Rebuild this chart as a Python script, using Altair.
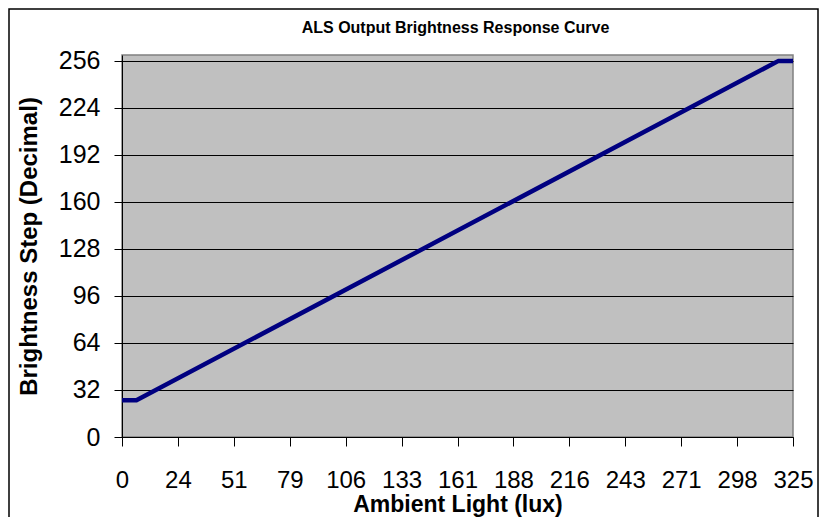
import altair as alt
import pandas as pd

# Data
lux = [0, 7, 318, 325]
step = [25, 25, 256, 256]
x_tick_labels = ['0', '24', '51', '79', '106', '133', '161', '188', '216', '243', '271', '298', '325']
y_ticks = [0, 32, 64, 96, 128, 160, 192, 224, 256]

df = pd.DataFrame({'lux': lux, 'step': step})
n = len(x_tick_labels) - 1
x_tick_pos = [325 * i / n for i in range(n + 1)]
label_expr = "[" + ",".join(f"'{s}'" for s in x_tick_labels) + f"][round(datum.value*{n}/325)]"

W, H = 671, 382
FONT = "Liberation Sans"

border = alt.Chart(alt.Data(values=[{'a': 1}])).mark_rect(
    filled=False, stroke='black', strokeWidth=1.5
).encode(
    x=alt.value(-113), x2=alt.value(696), y=alt.value(-46), y2=alt.value(H + 120)
)

line = alt.Chart(df).mark_line(color='#000080', strokeWidth=4.5).encode(
    x=alt.X('lux:Q',
            scale=alt.Scale(domain=[0, 325], nice=False, zero=False),
            axis=alt.Axis(values=x_tick_pos, labelExpr=label_expr, title='Ambient Light (lux)',
                          grid=False, tickSize=9, labelPadding=22, labelFontSize=24,
                          titleFontSize=23, titleFontWeight='bold', titleBaseline='alphabetic',
                          titleY=74, labelFlush=False)),
    y=alt.Y('step:Q',
            scale=alt.Scale(domain=[0, 260], nice=False),
            axis=alt.Axis(values=y_ticks, title='Brightness Step (Decimal)', grid=True,
                          gridColor='black', gridWidth=1, tickSize=8, labelPadding=14,
                          labelFontSize=25, titleFontSize=24, titleFontWeight='bold',
                          titleX=-93, titleBaseline='middle'))
)

chart = alt.layer(border, line).properties(
    width=W, height=H,
    background='white',
    padding={'left': 114, 'top': 47, 'right': 27, 'bottom': 80},
    autosize=alt.AutoSizeParams(type='none'),
    title=alt.TitleParams('ALS Output Brightness Response Curve', fontSize=16, fontWeight='bold',
                          font=FONT, baseline='alphabetic', offset=21, dy=62, dx=-2,
                          anchor='middle', color='black')
).configure_view(
    fill='#C0C0C0', stroke='#808080', strokeWidth=1.5
).configure_axis(
    labelFont=FONT, titleFont=FONT, labelColor='black', titleColor='black',
    domainColor='black', tickColor='black', domainWidth=1, tickWidth=1
)

chart.save("out.html", embed_options={"renderer": "svg", "actions": False})
